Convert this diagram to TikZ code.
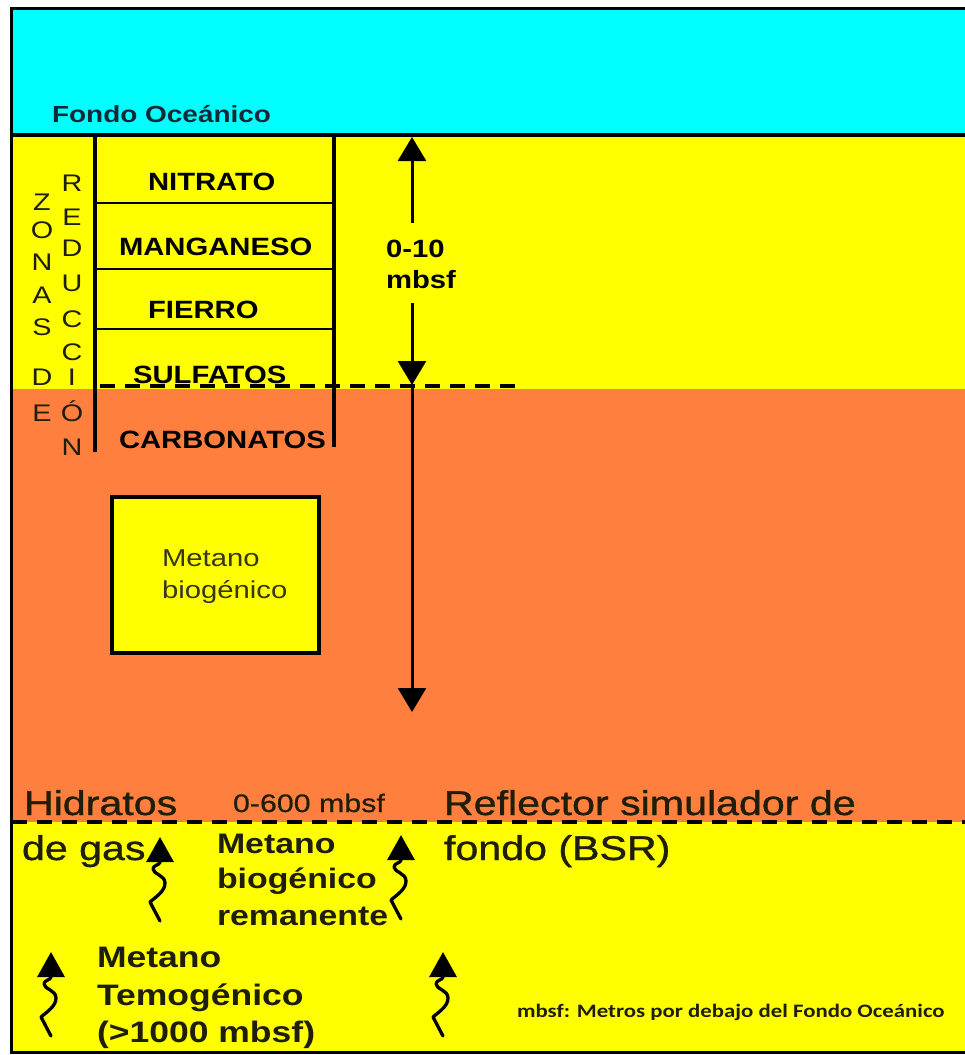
\documentclass[tikz,border=0pt]{standalone}
\usepackage{fontspec}
\setmainfont{Liberation Sans}
\usetikzlibrary{arrows.meta}
\newfontfamily\fTop[FakeStretch=1.2]{Liberation Sans}
\newfontfamily\fLab[FakeStretch=1.17]{Liberation Sans}
\newfontfamily\fVert[FakeStretch=1.2]{Liberation Sans}
\newfontfamily\fBoxT[FakeStretch=1.2]{Liberation Sans}
\newfontfamily\fLow[FakeStretch=1.2,FakeBold=1]{Liberation Sans}
\newfontfamily\fMid[FakeStretch=1.2,FakeBold=0.6]{Liberation Sans}
\newfontfamily\fMet[FakeStretch=1.2]{Liberation Sans}
\newfontfamily\fNote[FakeStretch=1.2]{Carlito}
\definecolor{cyanS}{RGB}{0,255,255}
\definecolor{yel}{RGB}{255,255,0}
\definecolor{ora}{RGB}{255,127,63}
\definecolor{navyT}{RGB}{20,40,55}
\definecolor{darkT}{RGB}{30,30,10}
\definecolor{oliveT}{RGB}{55,55,20}
\begin{document}
\begin{tikzpicture}[x=1pt,y=-1pt,
  txt/.style={inner sep=0pt, outer sep=0pt, anchor=base west},
  topf/.style={txt, text=navyT, font=\fTop\bfseries\fontsize{23.3}{28}\selectfont},
  labf/.style={txt, font=\fLab\bfseries\fontsize{25}{30}\selectfont},
  vert/.style={inner sep=0pt, anchor=base, text=darkT, font=\fVert\fontsize{24}{29}\selectfont},
  boxf/.style={txt, text=oliveT, font=\fBoxT\fontsize{24.4}{29}\selectfont},
  lowf/.style={txt, text=darkT, font=\fLow\fontsize{34.3}{40}\selectfont},
  midf/.style={txt, text=darkT, font=\fMid\fontsize{25.3}{30}\selectfont},
  metf/.style={txt, text=darkT, font=\fMet\bfseries\fontsize{28.2}{33}\selectfont},
  temf/.style={txt, text=darkT, font=\fMet\bfseries\fontsize{29.6}{35}\selectfont},
  notef/.style={txt, text=darkT, font=\fNote\bfseries\fontsize{19}{23}\selectfont},
  thickarrow/.style={line width=3pt, -{Triangle[width=28pt,length=24pt]}},
  dashline/.style={line width=3.5pt, dash pattern=on 15pt off 10pt},
  wavyarrow/.pic={\draw[line width=3.3pt, line cap=round, line join=round, -{Triangle[width=27pt,length=25pt]}]
     (0,59) -- (-10,40) .. controls (-3,34) and (5,29) .. (5,21)
     .. controls (5,13) and (-7,12) .. (-7,7)
     .. controls (-7,3) and (0,3) .. (0,0) -- (0,-25);}
]
\useasboundingbox (0,0) rectangle (965,1055);
\fill[white] (0,0) rectangle (965,1055);
% layers
\fill[cyanS] (12,8) rectangle (965,135);
\fill[yel] (12,135) rectangle (965,389);
\fill[ora] (12,389) rectangle (965,822);
\fill[yel] (12,822) rectangle (965,1052);
% frame
\draw[line width=3pt] (965,8) -- (11.5,8) -- (11.5,1052) -- (965,1052);
\draw[line width=4pt] (12,135) -- (965,135);

\node[topf] (fondo) at (52,122) {Fondo Oceánico};

% reduction zone table
\draw[line width=4pt] (95,135) -- (95,452);
\draw[line width=4pt] (334,135) -- (334,447);
\draw[line width=2.5pt] (95,203) -- (334,203);
\draw[line width=2.5pt] (95,269) -- (334,269);
\draw[line width=2.5pt] (95,329) -- (334,329);

\node[labf] (nit) at (148,190) {NITRATO};
\node[labf] (man) at (119,255) {MANGANESO};
\node[labf] (fie) at (148,318) {FIERRO};
\node[labf] (sul) at (133,383) {SULFATOS};
\node[labf] (car) at (119,448) {CARBONATOS};

\draw[dashline] (100,386) -- (522,386);

% vertical letters
\node[vert] (z1) at (42,210.5) {Z};
\node[vert] (z2) at (42,238.5) {O};
\node[vert] (z3) at (42,270.5) {N};
\node[vert] (z4) at (42,303.5) {A};
\node[vert] (z5) at (42,335.5) {S};
\node[vert] (z6) at (42,385.5) {D};
\node[vert] (z7) at (42,421.5) {E};
\node[vert] (r1) at (72,191.5) {R};
\node[vert] (r2) at (72,225.5) {E};
\node[vert] (r3) at (72,256.5) {D};
\node[vert] (r4) at (72,291.5) {U};
\node[vert] (r5) at (72,327.5) {C};
\node[vert] (r6) at (72,360.5) {C};
\node[vert] (r7) at (72,385.5) {I};
\node[vert] (r8) at (72,421.5) {Ó};
\node[vert] (r9) at (72,455.5) {N};

% 0-10 mbsf arrows
\coordinate (upS) at (412,223);
\coordinate (upT) at (412,137);
\coordinate (dnS) at (412,303);
\coordinate (dnT) at (412,385);
\coordinate (lgS) at (412,388);
\coordinate (lgT) at (412,712);
\draw[thickarrow] (upS) -- (upT);
\draw[thickarrow] (dnS) -- (dnT);
\draw[thickarrow] (lgS) -- (lgT);
\node[labf] (d010) at (386,257) {0-10};
\node[labf] (dmb) at (386,288) {mbsf};

% biogenic methane box
\draw[line width=4pt, fill=yel] (112,497) rectangle (319,653);
\node[boxf] (bm1) at (162,566) {Metano};
\node[boxf] (bm2) at (162,598) {biogénico};

% BSR
\draw[dashline] (12,822) -- (965,822);
\node[lowf] (hid) at (24,815) {Hidratos};
\node[midf] (m600) at (233,812) {0-600 mbsf};
\node[lowf] (refl) at (444,815) {Reflector simulador de};
\node[lowf] (dgas) at (22,860) {de gas};
\node[lowf] (fbsr) at (444,860) {fondo (BSR)};

\node[metf] (r1m) at (217,853) {Metano};
\node[metf] (r2m) at (217,888) {biogénico};
\node[metf] (r3m) at (217,925) {remanente};

\node[temf] (t1) at (97,967) {Metano};
\node[temf] (t2) at (97,1005) {Temogénico};
\node[temf] (t3) at (97,1042) {(>1000 mbsf)};

\node[notef] (note) at (517,1017) {mbsf: Metros por debajo del Fondo Oceánico};

% wavy arrows
\pic at (160,862) {wavyarrow};
\pic at (401,860) {wavyarrow};
\pic at (51,977) {wavyarrow};
\pic at (443,977) {wavyarrow};
\end{tikzpicture}
\end{document}
